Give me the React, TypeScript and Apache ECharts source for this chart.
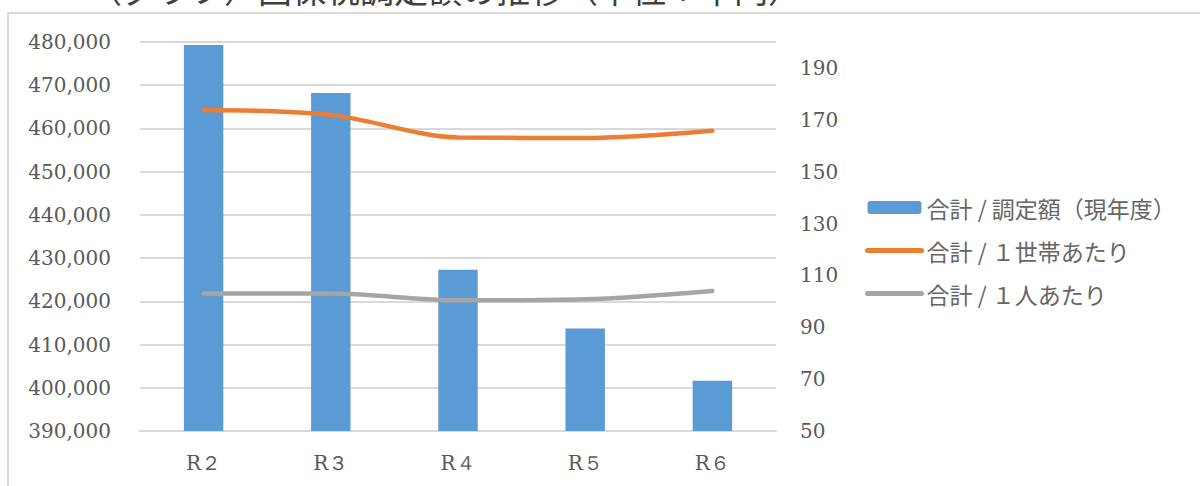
import React, { useEffect, useRef } from "react";
import * as echarts from "echarts";

const categories = ["R２", "R３", "R４", "R５", "R６"];
const totalAmount = [479300, 468200, 427300, 413700, 401600];
const perHousehold = [173.8, 171.9, 163.2, 163.0, 165.8];
const perPerson = [103.0, 103.0, 100.4, 100.8, 104.0];
const seriesNames = ["合計 / 調定額（現年度）", "合計 / １世帯あたり", "合計 / １人あたり"];
const titleText = "（グラフ）国保税調定額の推移（単位：千円）";

export default function App() {
  const ref = useRef<HTMLDivElement>(null);
  useEffect(() => {
    if (!ref.current) return;
    const chart = echarts.init(ref.current, undefined, { renderer: "svg" });
    const labelColor = "#595959";
    const serif = "'DejaVu Serif', 'Liberation Serif', serif";
    const cjk = "'Noto Sans CJK JP', sans-serif";
    chart.setOption({
      animation: false,
      backgroundColor: "#ffffff",
      grid: { left: 140, right: 424, top: 42, bottom: 55, containLabel: false },
      legend: {
        orient: "vertical",
        left: 865,
        top: 196,
        padding: 0,
        itemWidth: 54,
        itemHeight: 13,
        itemGap: 20,
        textStyle: { fontFamily: cjk, fontSize: 23, color: "#666666" },
        data: [
          { name: seriesNames[0] },
          { name: seriesNames[1], itemStyle: { opacity: 0 }, lineStyle: { width: 5, cap: "round" } },
          { name: seriesNames[2], itemStyle: { opacity: 0 }, lineStyle: { width: 5, cap: "round" } },
        ],
      },
      xAxis: {
        type: "category",
        data: categories,
        axisLine: { show: true, lineStyle: { color: "#D9D9D9", width: 2 } },
        axisTick: { show: false },
        axisLabel: { fontFamily: serif, fontSize: 20, color: labelColor, margin: 22 },
      },
      yAxis: [
        {
          type: "value",
          min: 390000,
          max: 480000,
          interval: 10000,
          axisLine: { show: false },
          axisTick: { show: false },
          splitLine: { lineStyle: { color: "#D9D9D9", width: 2 } },
          axisLabel: {
            fontFamily: serif,
            fontSize: 20,
            color: labelColor,
            margin: 29,
            formatter: (v: number) => v.toLocaleString("en-US"),
          },
        },
        {
          type: "value",
          min: 50,
          max: 200,
          interval: 10,
          axisLine: { show: false },
          axisTick: { show: false },
          splitLine: { show: false },
          axisLabel: {
            fontFamily: serif,
            fontSize: 20,
            color: labelColor,
            margin: 24,
            formatter: (v: number) => (Math.round(v - 50) % 20 === 0 && v < 200 ? String(v) : ""),
          },
        },
      ],
      series: [
        {
          name: seriesNames[0],
          type: "bar",
          data: totalAmount,
          barWidth: "31%",
          itemStyle: { color: "#5B9BD5" },
        },
        {
          name: seriesNames[1],
          type: "line",
          yAxisIndex: 1,
          data: perHousehold,
          symbol: "none",
          smooth: 0.3,
          lineStyle: { color: "#ED7D31", width: 4.5, cap: "round" },
          itemStyle: { color: "#ED7D31" },
        },
        {
          name: seriesNames[2],
          type: "line",
          yAxisIndex: 1,
          data: perPerson,
          symbol: "none",
          smooth: 0.3,
          lineStyle: { color: "#A5A5A5", width: 4.5, cap: "round" },
          itemStyle: { color: "#A5A5A5" },
        },
      ],
      graphic: [
        {
          type: "rect",
          silent: true,
          z: -1,
          shape: { x: 8, y: 13, width: 1400, height: 700 },
          style: { fill: "none", stroke: "#D9D9D9", lineWidth: 2 },
        },
        {
          type: "text",
          silent: true,
          x: 88,
          y: -12,
          style: {
            text: titleText,
            font: "34px 'Noto Sans CJK JP', sans-serif",
            fill: "#404040",
            verticalAlign: "middle",
          },
        },
      ],
    });
    return () => chart.dispose();
  }, []);
  return (
    <div
      ref={ref}
      style={{ position: "absolute", left: 0, top: 0, width: 1200, height: 486 }}
    />
  );
}
